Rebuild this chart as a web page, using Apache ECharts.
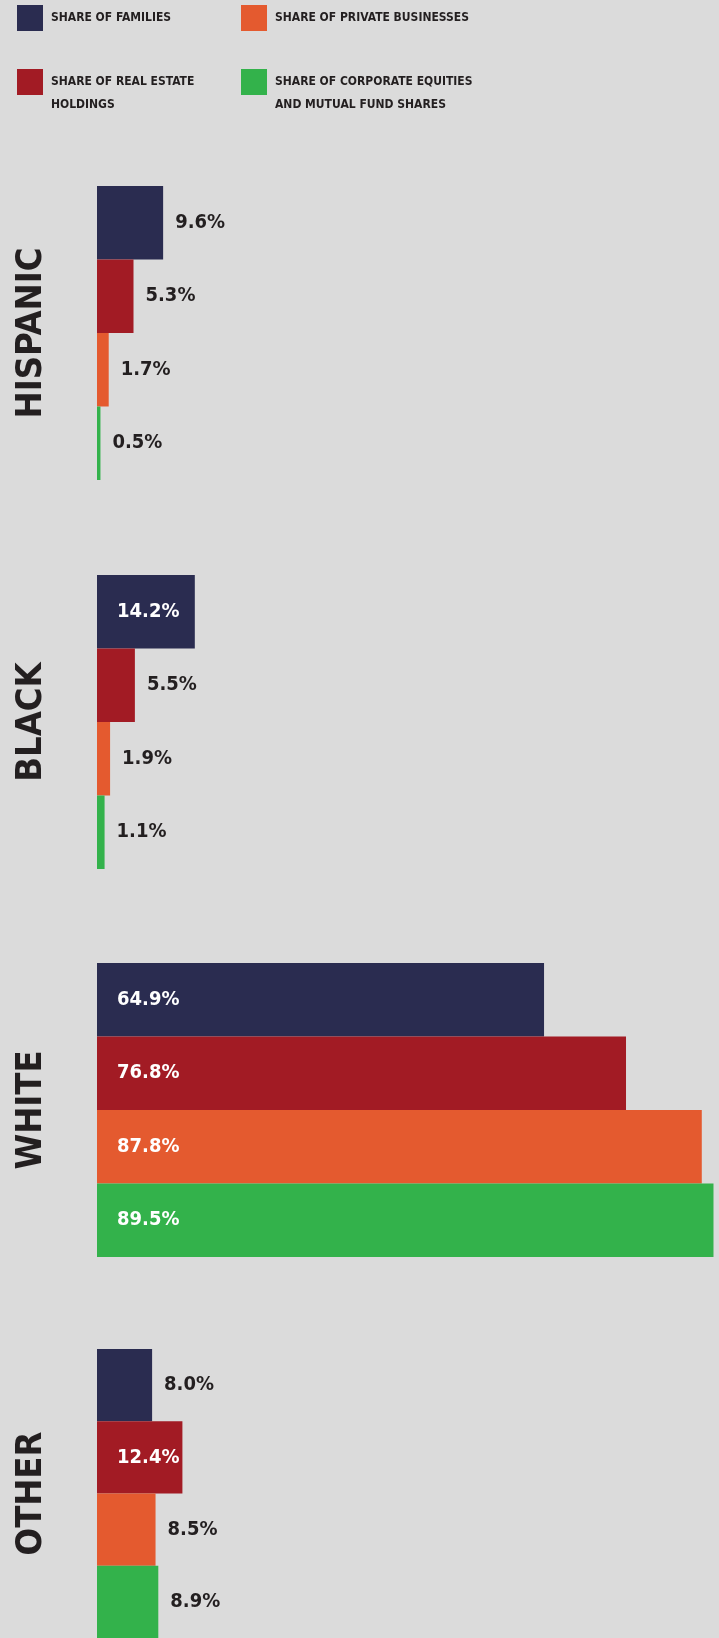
<!DOCTYPE html>
<html>
<head>
<meta charset="utf-8">
<script src="https://cdn.jsdelivr.net/npm/echarts@6/dist/echarts.min.js"></script>
<style>
  html, body { margin: 0; padding: 0; background: #dbdbdb; }
  #chart { width: 719px; height: 1638px; }
</style>
</head>
<body>
<div id="chart"></div>
<script>
// groups (one panel each), top to bottom
var groups = ['HISPANIC', 'BLACK', 'WHITE', 'OTHER'];

// shares in percent, one value per group
var families   = [9.6, 14.2, 64.9, 8.0];
var realEstate = [5.3, 5.5, 76.8, 12.4];
var privateBiz = [1.7, 1.9, 87.8, 8.5];
var equities   = [0.5, 1.1, 89.5, 8.9];

var seriesNames = [
    'SHARE OF FAMILIES',
    'SHARE OF REAL ESTATE HOLDINGS',
    'SHARE OF PRIVATE BUSINESSES',
    'SHARE OF CORPORATE EQUITIES AND MUTUAL FUND SHARES'
];
// leading blank line keeps the first text line level with the swatch
var legendText = {
    'SHARE OF FAMILIES': 'SHARE OF FAMILIES',
    'SHARE OF REAL ESTATE HOLDINGS': '\nSHARE OF REAL ESTATE\nHOLDINGS',
    'SHARE OF PRIVATE BUSINESSES': 'SHARE OF PRIVATE BUSINESSES',
    'SHARE OF CORPORATE EQUITIES AND MUTUAL FUND SHARES': '\nSHARE OF CORPORATE EQUITIES\nAND MUTUAL FUND SHARES'
};
var seriesValues = [families, realEstate, privateBiz, equities];
var colors = ['#2a2c50', '#a21b24', '#e45a2f', '#33b24b'];

var FONT = '"DejaVu Sans Condensed", "Liberation Sans Narrow", sans-serif';
var TEXT = '#231f20';
var gridTops = [186, 575, 963, 1349];
var gridH = 294;

var myChart = echarts.init(document.getElementById('chart'));

var grids = [], xAxes = [], yAxes = [], series = [];
groups.forEach(function (g, gi) {
    grids.push({ left: 97, right: 0, top: gridTops[gi], height: gridH });
    xAxes.push({
        gridIndex: gi, type: 'value', min: 0, max: 90.3,
        axisLine: { show: false }, axisTick: { show: false },
        axisLabel: { show: false }, splitLine: { show: false }
    });
    yAxes.push({
        gridIndex: gi, type: 'category', data: [g], inverse: true,
        axisLine: { show: false }, axisTick: { show: false }, axisLabel: { show: false },
        name: g, nameLocation: 'middle', nameRotate: 90, nameGap: 47,
        nameTextStyle: { fontFamily: FONT, fontWeight: 'bold', fontSize: 36, color: TEXT }
    });
    seriesNames.forEach(function (name, si) {
        var v = seriesValues[si][gi];
        // long bars carry the label inside, in white
        var inside = v > 10;
        series.push({
            type: 'bar', name: name,
            xAxisIndex: gi, yAxisIndex: gi,
            barGap: '0%', barCategoryGap: '0%',
            itemStyle: { color: colors[si] },
            data: [{
                value: v,
                label: {
                    show: true,
                    position: inside ? 'insideLeft' : 'right',
                    distance: inside ? 20 : 12,
                    color: inside ? '#ffffff' : TEXT,
                    fontFamily: FONT, fontWeight: 'bold', fontSize: 20,
                    formatter: function (p) { return p.value.toFixed(1) + '%'; }
                }
            }],
            emphasis: { disabled: true },
            animation: false
        });
    });
});

function legendAt(name, left, top) {
    return {
        data: [name], left: left, top: top, padding: 0,
        icon: 'rect', itemWidth: 26, itemHeight: 26,
        formatter: function (n) { return legendText[n]; },
        textStyle: {
            fontFamily: FONT, fontWeight: 'bold', fontSize: 12, color: TEXT,
            lineHeight: 23, padding: [0, 0, 0, 3]
        }
    };
}

myChart.setOption({
    backgroundColor: '#dbdbdb',
    color: colors,
    legend: [
        legendAt(seriesNames[0], 17, 5),
        legendAt(seriesNames[2], 241, 5),
        legendAt(seriesNames[1], 17, 47.5),
        legendAt(seriesNames[3], 241, 47.5)
    ],
    grid: grids,
    xAxis: xAxes,
    yAxis: yAxes,
    series: series
});
</script>
</body>
</html>
